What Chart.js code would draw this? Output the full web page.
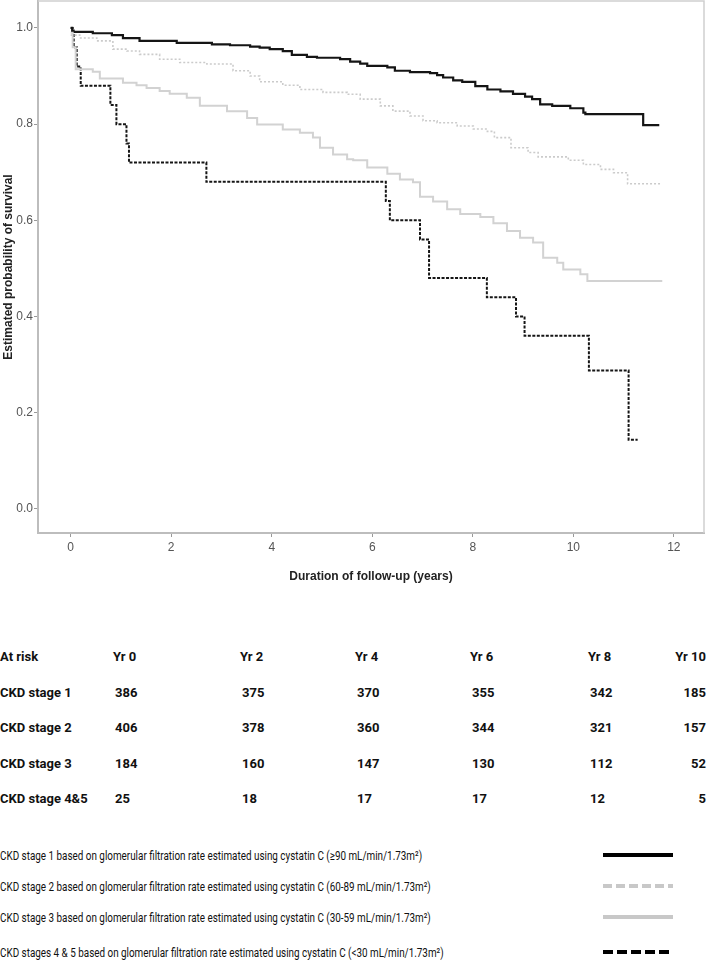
<!DOCTYPE html>
<html lang="en">
<head>
<meta charset="UTF-8" />
<title>Survival by CKD stage</title>
<script src="https://cdn.jsdelivr.net/npm/chart.js"></script>
<style>
  body { margin: 0; background: #fff; }
  #page { position: relative; width: 708px; height: 960px; overflow: hidden; }
  #plot { position: absolute; left: 0; top: 0; }
  .cell { position: absolute; font-family: 'Roboto', 'Liberation Sans', sans-serif; white-space: nowrap; color: #111; line-height: 1; }
  .risk { font-weight: bold; font-size: 13px; transform: translateY(-50%); }
  .leg { font-size: 13px; transform: translateY(-50%) scaleX(0.76); transform-origin: left center; }
  .sample { position: absolute; left: 603px; width: 70px; height: 6px; transform: translateY(-50%); }
</style>
</head>
<body>
<div id="page">
  <canvas id="plot" width="708" height="600"></canvas>
  <div id="table"></div>
</div>

<script>
// Kaplan-Meier steps (time in years, survival)
const stage1Time = [0, 0.03, 0.44, 0.82, 1.04, 1.37, 2.11, 2.81, 3.17, 3.57, 3.76, 3.96, 4.22, 4.40, 4.70, 4.90, 5.36, 5.56, 5.76, 5.90, 6.30, 6.45, 6.75, 7.15, 7.29, 7.41, 7.61, 7.79, 8.05, 8.29, 8.55, 8.80, 9.04, 9.18, 9.34, 9.58, 9.94, 10.20, 10.24, 11.39, 11.71];
const stage1Surv = [1.0, 0.992, 0.989, 0.985, 0.979, 0.973, 0.969, 0.966, 0.964, 0.961, 0.959, 0.956, 0.952, 0.944, 0.940, 0.938, 0.935, 0.930, 0.926, 0.921, 0.918, 0.911, 0.908, 0.906, 0.902, 0.897, 0.891, 0.888, 0.879, 0.872, 0.868, 0.863, 0.857, 0.852, 0.841, 0.838, 0.833, 0.824, 0.821, 0.798, 0.798];

const stage2Time = [0, 0.18, 0.52, 0.84, 1.12, 1.37, 1.77, 2.17, 2.71, 3.23, 3.57, 3.76, 4.22, 4.56, 5.02, 5.50, 5.76, 6.16, 6.41, 6.75, 7.01, 7.29, 7.69, 8.01, 8.29, 8.43, 8.76, 9.10, 9.30, 9.90, 10.20, 10.54, 10.80, 11.08, 11.73];
const stage2Surv = [0.985, 0.979, 0.973, 0.956, 0.952, 0.945, 0.935, 0.928, 0.925, 0.911, 0.900, 0.888, 0.881, 0.872, 0.866, 0.862, 0.852, 0.838, 0.827, 0.817, 0.807, 0.803, 0.796, 0.790, 0.785, 0.772, 0.751, 0.741, 0.732, 0.725, 0.716, 0.706, 0.699, 0.676, 0.676];

const stage3Time = [0, 0.04, 0.10, 0.44, 0.58, 1.04, 1.31, 1.51, 1.77, 1.97, 2.31, 2.57, 3.11, 3.51, 3.71, 4.22, 4.56, 4.82, 4.96, 5.22, 5.50, 5.62, 5.90, 6.30, 6.55, 6.81, 6.95, 7.21, 7.49, 7.75, 8.15, 8.41, 8.68, 8.94, 9.20, 9.40, 9.68, 9.80, 10.14, 10.28, 11.77];
const stage3Surv = [0.99, 0.96, 0.914, 0.909, 0.895, 0.886, 0.881, 0.875, 0.869, 0.863, 0.855, 0.838, 0.827, 0.813, 0.799, 0.789, 0.782, 0.772, 0.751, 0.737, 0.727, 0.725, 0.710, 0.697, 0.685, 0.679, 0.649, 0.639, 0.623, 0.613, 0.607, 0.594, 0.578, 0.564, 0.554, 0.522, 0.512, 0.498, 0.488, 0.474, 0.474];

const stage45Time = [0, 0.06, 0.12, 0.20, 0.79, 0.91, 1.11, 1.16, 2.70, 6.27, 6.35, 6.95, 7.13, 8.28, 8.86, 9.03, 10.31, 11.10, 11.28];
const stage45Surv = [1.0, 0.96, 0.92, 0.88, 0.84, 0.80, 0.76, 0.72, 0.68, 0.64, 0.60, 0.56, 0.48, 0.44, 0.40, 0.36, 0.288, 0.144, 0.144];

// numbers at risk
const yearLabels = ['Yr 0', 'Yr 2', 'Yr 4', 'Yr 6', 'Yr 8', 'Yr 10'];
const groupNames = ['CKD stage 1', 'CKD stage 2', 'CKD stage 3', 'CKD stage 4&5'];
const risk1 = [386, 375, 370, 355, 342, 185];
const risk2 = [406, 378, 360, 344, 321, 157];
const risk3 = [184, 160, 147, 130, 112, 52];
const risk45 = [25, 18, 17, 17, 12, 5];

const legendLabels = [
  'CKD stage 1 based on glomerular filtration rate estimated using cystatin C (≥90 mL/min/1.73m²)',
  'CKD stage 2 based on glomerular filtration rate estimated using cystatin C (60-89 mL/min/1.73m²)',
  'CKD stage 3 based on glomerular filtration rate estimated using cystatin C (30-59 mL/min/1.73m²)',
  'CKD stages 4 & 5 based on glomerular filtration rate estimated using cystatin C (<30 mL/min/1.73m²)'
];

function pts(t, s) { return t.map((v, i) => ({ x: v, y: s[i] })); }

const axisFont = { family: "'Liberation Sans', Arial, sans-serif", size: 12 };
const titleFont = { family: "'Liberation Sans', Arial, sans-serif", size: 12, weight: 'bold' };

// light frame on the top and right side of the plot
const framePlugin = {
  id: 'frame',
  afterDraw(chart) {
    const a = chart.chartArea, c = chart.ctx;
    c.save();
    c.strokeStyle = '#cfcfcf';
    c.lineWidth = 1.5;
    c.beginPath();
    c.moveTo(a.left, a.top);
    c.lineTo(a.right, a.top);
    c.lineTo(a.right, a.bottom);
    c.stroke();
    c.restore();
  }
};

new Chart(document.getElementById('plot'), {
  type: 'line',
  data: {
    datasets: [
      { label: 'Stage 3', data: pts(stage3Time, stage3Surv), borderColor: '#d2d2d2', borderWidth: 2 },
      { label: 'Stage 2', data: pts(stage2Time, stage2Surv), borderColor: '#cbcbcb', borderWidth: 1.6, borderDash: [2, 2] },
      { label: 'Stage 4&5', data: pts(stage45Time, stage45Surv), borderColor: '#151515', borderWidth: 2, borderDash: [3, 1.5] },
      { label: 'Stage 1', data: pts(stage1Time, stage1Surv), borderColor: '#151515', borderWidth: 2.2 }
    ]
  },
  options: {
    responsive: false,
    animation: false,
    events: [],
    parsing: false,
    datasets: { line: { stepped: true, pointRadius: 0, tension: 0, fill: false } },
    layout: { padding: { top: 1, right: 4, bottom: 12, left: 0 } },
    plugins: { legend: { display: false }, tooltip: { enabled: false } },
    scales: {
      x: {
        type: 'linear',
        min: -0.65,
        max: 12.6,
        afterFit: s => { s.height = 55; s.paddingLeft = 0; s.paddingRight = 0; },
        ticks: { stepSize: 2, includeBounds: false, color: '#555', font: axisFont, padding: 3, maxRotation: 0 },
        grid: { drawOnChartArea: false, tickLength: 4, tickColor: '#999' },
        border: { color: '#bdbdbd', width: 2 },
        title: { display: true, text: 'Duration of follow-up (years)', color: '#222', font: titleFont, padding: { top: 4, bottom: 4 } }
      },
      y: {
        type: 'linear',
        min: -0.05,
        max: 1.056,
        afterFit: s => { s.width = 38; s.paddingTop = 0; s.paddingBottom = 0; },
        ticks: { stepSize: 0.2, includeBounds: false, color: '#555', font: axisFont, padding: 1,
                 callback: v => Number(v).toFixed(1) },
        grid: { drawOnChartArea: false, tickLength: 4, tickColor: '#999' },
        border: { color: '#bdbdbd', width: 2 },
        title: { display: true, text: 'Estimated probability of survival', color: '#222', font: titleFont, padding: { top: 1, bottom: 1 } }
      }
    }
  },
  plugins: [framePlugin]
});

// at-risk table and legend as plain text below the plot
const table = document.getElementById('table');
const colX = [113, 240, 355, 470, 588];
const rowY = [656, 692, 727, 763, 798];
function put(text, x, y, cls, right) {
  const d = document.createElement('div');
  d.className = 'cell ' + cls;
  d.textContent = text;
  d.style.top = y + 'px';
  if (right) d.style.right = (708 - x) + 'px'; else d.style.left = x + 'px';
  table.appendChild(d);
}
put('At risk', 0, rowY[0], 'risk');
yearLabels.forEach((t, i) => i < 5 ? put(t, colX[i], rowY[0], 'risk') : put(t, 706, rowY[0], 'risk', true));
[risk1, risk2, risk3, risk45].forEach((row, r) => {
  put(groupNames[r], 0, rowY[r + 1], 'risk');
  row.forEach((v, i) => i < 5 ? put(String(v), colX[i] + 2, rowY[r + 1], 'risk') : put(String(v), 706, rowY[r + 1], 'risk', true));
});

const legY = [855, 886, 917, 952];
const sampleStyle = [
  { color: '#000', dash: '' },
  { color: '#c8c8c8', dash: '9 4' },
  { color: '#c8c8c8', dash: '' },
  { color: '#000', dash: '10 4' }
];
legendLabels.forEach((lab, i) => {
  put(lab, 0, legY[i], 'leg');
  const st = sampleStyle[i];
  const svg = `<svg class="sample" style="top:${legY[i]}px" width="70" height="6"><line x1="0" y1="3" x2="70" y2="3" stroke="${st.color}" stroke-width="4" stroke-dasharray="${st.dash}"/></svg>`;
  table.insertAdjacentHTML('beforeend', svg);
});
</script>
</body>
</html>
